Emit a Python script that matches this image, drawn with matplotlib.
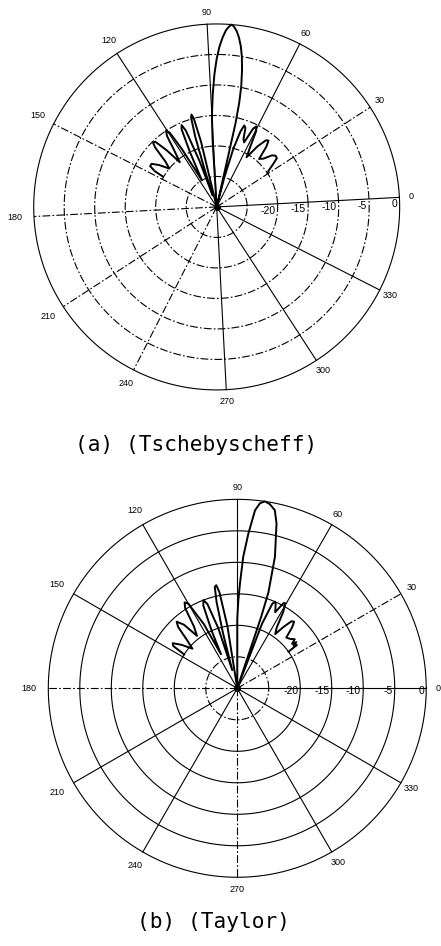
import numpy as np
import matplotlib
matplotlib.use("Agg")
import matplotlib.pyplot as plt

# array factor patterns, angle in degrees vs. level in dB (floor at -30 dB)
tsch_angle = [30.5, 32, 34, 36, 38, 40, 43, 45.5, 47.5, 49, 50.5, 53, 56, 58, 59.5, 60.8, 62, 64, 65.5, 67, 68.3,
              69.5, 71, 72.5, 73.5,
              74, 74.3, 74.8, 75.5, 76.5, 77.5, 78.5, 79.5, 80.5, 81.5, 82.3, 83, 84, 85, 86, 87, 88, 89, 90, 90.5, 91,
              99.5, 100.5, 101.5, 102.3, 103, 104, 105, 106, 107.5, 109, 110.2, 111.3, 113, 116, 118, 119.3, 120.6,
              122, 124, 126.5, 128.5, 130.3, 131.8, 133, 135.5, 138, 141, 143.5, 145.5, 147, 147.5]
tsch_db = [-20, -19.6, -18.5, -17.3, -17.2, -17.6, -19, -19.5, -17.2, -16.2, -16.4, -18, -20.5, -18.5, -16, -15.3, -15.8,
           -18.5, -18, -16.2, -15.9, -17, -20, -25, -30,
           -30, -16, -12.5, -9.8, -7.2, -5, -3.3, -2, -1, -0.3, 0, -0.3, -1, -2.2, -3.7, -5.7, -8.3, -11.5, -15, -19, -30,
           -30, -19, -15, -14.3, -14.8, -18, -24, -28, -22, -16.5, -15.4, -16, -20, -25, -19, -15.6, -15,
           -15.8, -18.5, -20.5, -17.5, -15.3, -15.2, -16, -18.8, -20, -18.3, -17.2, -17.2, -18.3, -19.8]

taylor_angle = [35.5, 36, 37, 38, 39, 40.5, 43, 46, 48, 49.5, 51, 53, 55, 57, 59, 60.5, 61.5, 63.5, 65.5, 66.5, 67.5,
                69, 70,
                71, 71.5, 72, 74, 76.6, 78.1, 80, 81.6, 83, 84.3, 85.9, 87.4, 88.5, 89.3, 90, 91,
                97, 99, 100.5, 101.5, 102.5, 103.5, 104.5, 105.5, 107.5, 109.5, 111, 112.3, 114, 115.5, 117.5, 120,
                121.5, 123, 125, 127.5, 130, 132.3, 134, 136, 138.5, 142, 145, 146.5, 147.5]
taylor_db = [-20, -18.3, -18.8, -18.1, -18.8, -18, -18.5, -18.8, -17, -16.1, -16.3, -17.8, -19.5, -18.5, -15.8, -14.5,
             -14.6, -16.5, -15.3, -15, -15.5, -19, -30,
             -30, -18, -14, -8.3, -3.1, -1.1, -0.3, 0, -0.4, -1.6, -5.4, -9.1, -13.3, -16, -19, -30,
             -30, -20, -14.5, -13.3, -13.5, -16, -21, -27, -20, -15.8, -15, -15.8, -20, -24, -18.5, -14.5,
             -14, -14.8, -18, -19.5, -16.8, -15.7, -16.5, -18.8, -20.5, -18.8, -17.5, -17.8, -20]

ring_db = [-25, -20, -15, -10, -5, 0]
ring_labels = ["-20", "-15", "-10", "-5", "0"]
spoke_deg = [0, 30, 60, 90, 120, 150, 180, 210, 240, 270, 300, 330]

DASHDOT = (0, (7, 2, 1.5, 2))


def polar_plot(rect, angle, db, offset, solid_rings, solid_spokes, lab_dy):
    ax = fig.add_axes(rect, projection="polar")
    ax.set_theta_offset(np.deg2rad(offset))
    ax.set_ylim(-30, 0)
    ax.set_xticks([])
    ax.set_yticks([])
    ax.grid(False)
    ax.spines["polar"].set_visible(False)

    t = np.linspace(0, 2 * np.pi, 721)
    for r in ring_db:
        ls = "-" if r in solid_rings else DASHDOT
        ax.plot(t, np.full_like(t, r), color="k", lw=0.8, ls=ls, clip_on=False)
    for s in spoke_deg:
        ls = "-" if s in solid_spokes else DASHDOT
        ax.plot([np.deg2rad(s)] * 2, [-30, 0], color="k", lw=0.8, ls=ls, clip_on=False)

    ax.plot(np.deg2rad(angle), db, color="k", lw=1.4, clip_on=False)
    ax.plot([0], [-30], "o", color="k", ms=4)

    for r, lab in zip(ring_db[1:], ring_labels):
        ax.annotate(lab, xy=(0, r), xytext=(-1.5, lab_dy), textcoords="offset points",
                    ha="right", va="center", fontsize=7.5, family="Liberation Sans")

    for s in spoke_deg:
        c = np.cos(np.deg2rad(s))
        f = 1.065 + 0.04 * max(0.0, -c)
        ax.text(np.deg2rad(s), -30 + 30 * f, str(s), ha="center", va="center",
                fontsize=6.5, family="Liberation Sans", clip_on=False)
    return ax


fig = plt.figure(figsize=(4.41, 9.46), dpi=100)

polar_plot([0.0764, 0.5878, 0.8299, 0.3869], tsch_angle, tsch_db, 3,
           solid_rings=[0], solid_spokes=[0, 60, 90, 120, 270, 300, 330], lab_dy=-5)
polar_plot([0.1095, 0.0726, 0.857, 0.3996], taylor_angle, taylor_db, 0,
           solid_rings=[0, -5, -10, -15, -20], solid_spokes=[0, 60, 90, 120, 150, 210, 240, 300, 330],
           lab_dy=-2)

fig.text(0.444, 0.5296, "(a) (Tschebyscheff)", ha="center", va="center",
         fontsize=15.2, family="DejaVu Sans Mono")
fig.text(0.483, 0.0254, "(b) (Taylor)", ha="center", va="center",
         fontsize=15.2, family="DejaVu Sans Mono")

fig.savefig("out.png", dpi=100, facecolor="white")
